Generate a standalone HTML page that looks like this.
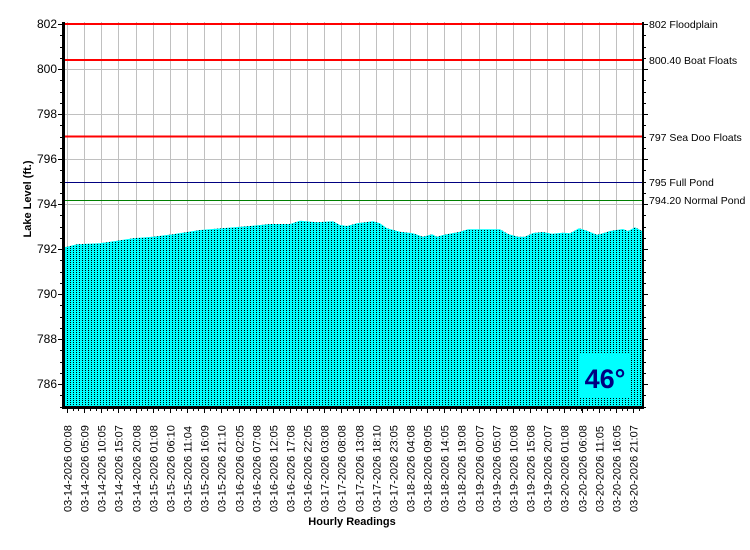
<!DOCTYPE html>
<html><head><meta charset="utf-8"><style>
html,body{margin:0;padding:0;background:#fff;}
svg{display:block;font-family:"Liberation Sans",sans-serif;}
</style></head><body>
<svg width="750" height="550" xmlns="http://www.w3.org/2000/svg">
<defs>
<pattern id="dots" width="3" height="2" patternUnits="userSpaceOnUse">
<rect width="3" height="2" fill="#00ffff"/>
<rect x="1" y="0" width="1" height="1" fill="#000"/>
</pattern>
</defs>
<g stroke="#c0c0c0" stroke-width="1">
<line x1="64" y1="24.5" x2="642" y2="24.5"/>
<line x1="64" y1="69.5" x2="642" y2="69.5"/>
<line x1="64" y1="114.5" x2="642" y2="114.5"/>
<line x1="64" y1="159.5" x2="642" y2="159.5"/>
<line x1="64" y1="204.5" x2="642" y2="204.5"/>
<line x1="64" y1="249.5" x2="642" y2="249.5"/>
<line x1="64" y1="294.5" x2="642" y2="294.5"/>
<line x1="64" y1="339.5" x2="642" y2="339.5"/>
<line x1="64" y1="384.5" x2="642" y2="384.5"/>
</g>
<g id="vg" stroke="#c0c0c0" stroke-width="1"></g>
<path fill="url(#dots)" d="M65,407 L65,247 L67,246.7 L77,244.3 L100,243.3 L117,240.7 L133,238.3 L153,236.7 L173,234.3 L200,230 L225,228 L250,226 L270,224 L290,224 L300,220.7 L317,222.3 L333,221.3 L340,225 L347,226 L357,223.3 L373,221.3 L380,223.3 L387,228.3 L400,231.7 L413,233.3 L423,236.7 L432,234.3 L437,236.7 L443,235 L460,231.7 L468,229.3 L500,229.3 L508,234 L518,236.7 L525,236.7 L533,233 L543,232 L552,233.7 L563,232.7 L570,233.3 L579,228.3 L587,230.7 L597,234.7 L603,233.3 L610,231 L623,229 L628,231 L635,227.3 L642,231 L642,407 Z"/>
<rect x="580" y="353" width="50" height="45" fill="#00ffff"/>
<text x="605" y="388" font-size="27" font-weight="bold" fill="#000080" text-anchor="middle">46°</text>
<line x1="64" y1="24" x2="642" y2="24" stroke="#ff0000" stroke-width="2"/>
<line x1="64" y1="60" x2="642" y2="60" stroke="#ff0000" stroke-width="2"/>
<line x1="64" y1="136.5" x2="642" y2="136.5" stroke="#ff0000" stroke-width="2"/>
<line x1="64" y1="182.5" x2="642" y2="182.5" stroke="#000080" stroke-width="1"/>
<line x1="64" y1="200.5" x2="642" y2="200.5" stroke="#008000" stroke-width="1"/>
<rect x="62" y="22" width="3" height="387" fill="#000"/>
<rect x="62" y="406" width="582" height="3" fill="#000"/>
<rect x="642" y="22" width="2" height="387" fill="#000"/>
<g id="ticks" stroke="#000" stroke-width="1"></g>
<g font-size="12" text-anchor="end" fill="#000">
<text x="57" y="28">802</text>
<text x="57" y="73">800</text>
<text x="57" y="118">798</text>
<text x="57" y="163">796</text>
<text x="57" y="208">794</text>
<text x="57" y="253">792</text>
<text x="57" y="298">790</text>
<text x="57" y="343">788</text>
<text x="57" y="388">786</text>
</g>
<g font-size="10.5" fill="#000">
<text x="649" y="28">802 Floodplain</text>
<text x="649" y="64">800.40 Boat Floats</text>
<text x="649" y="141">797 Sea Doo Floats</text>
<text x="649" y="186">795 Full Pond</text>
<text x="649" y="204">794.20 Normal Pond</text>
</g>
<text transform="translate(31,199) rotate(-90)" font-size="11" font-weight="bold" text-anchor="middle">Lake Level (ft.)</text>
<text x="352" y="525" font-size="11" font-weight="bold" text-anchor="middle">Hourly Readings</text>
<g id="xl" font-size="11" fill="#000"></g>
</svg>
<script>
var labels=["03-14-2026 00:08","03-14-2026 05:09","03-14-2026 10:05","03-14-2026 15:07","03-14-2026 20:08","03-15-2026 01:08","03-15-2026 06:10","03-15-2026 11:04","03-15-2026 16:09","03-15-2026 21:10","03-16-2026 02:05","03-16-2026 07:08","03-16-2026 12:05","03-16-2026 17:08","03-16-2026 22:05","03-17-2026 03:08","03-17-2026 08:08","03-17-2026 13:08","03-17-2026 18:10","03-17-2026 23:05","03-18-2026 04:08","03-18-2026 09:05","03-18-2026 14:05","03-18-2026 19:08","03-19-2026 00:07","03-19-2026 05:07","03-19-2026 10:08","03-19-2026 15:08","03-19-2026 20:07","03-20-2026 01:08","03-20-2026 06:08","03-20-2026 11:05","03-20-2026 16:05","03-20-2026 21:07"];
var ns="http://www.w3.org/2000/svg";
var vg=document.getElementById("vg"),xl=document.getElementById("xl"),tk=document.getElementById("ticks");
for(var i=0;i<labels.length;i++){
 var x=Math.round(67+i*17.15)+0.5;
 var l=document.createElementNS(ns,"line");l.setAttribute("x1",x);l.setAttribute("x2",x);l.setAttribute("y1",22);l.setAttribute("y2",406);vg.appendChild(l);
 var t=document.createElementNS(ns,"text");t.setAttribute("transform","translate("+(x+4)+",512) rotate(-90)");t.textContent=labels[i];xl.appendChild(t);
 var k=document.createElementNS(ns,"line");k.setAttribute("x1",x);k.setAttribute("x2",x);k.setAttribute("y1",409);k.setAttribute("y2",413);tk.appendChild(k);
}
for(var j=0;j<34*3;j++){var xx=Math.round(67+j*17.15/3)+0.5;if(xx>642)break;var k2=document.createElementNS(ns,"line");k2.setAttribute("x1",xx);k2.setAttribute("x2",xx);k2.setAttribute("y1",409);k2.setAttribute("y2",411);tk.appendChild(k2);}
for(var v=785;v<=802;v+=0.5){var y=Math.round(24+(802-v)*22.5)+0.5;var big=(v%2==0);
 var a=document.createElementNS(ns,"line");a.setAttribute("x1",big?58:60);a.setAttribute("x2",62);a.setAttribute("y1",y);a.setAttribute("y2",y);tk.appendChild(a);
 var b=document.createElementNS(ns,"line");b.setAttribute("x1",644);b.setAttribute("x2",big?648:646);b.setAttribute("y1",y);b.setAttribute("y2",y);tk.appendChild(b);}
</script>
</body></html>
